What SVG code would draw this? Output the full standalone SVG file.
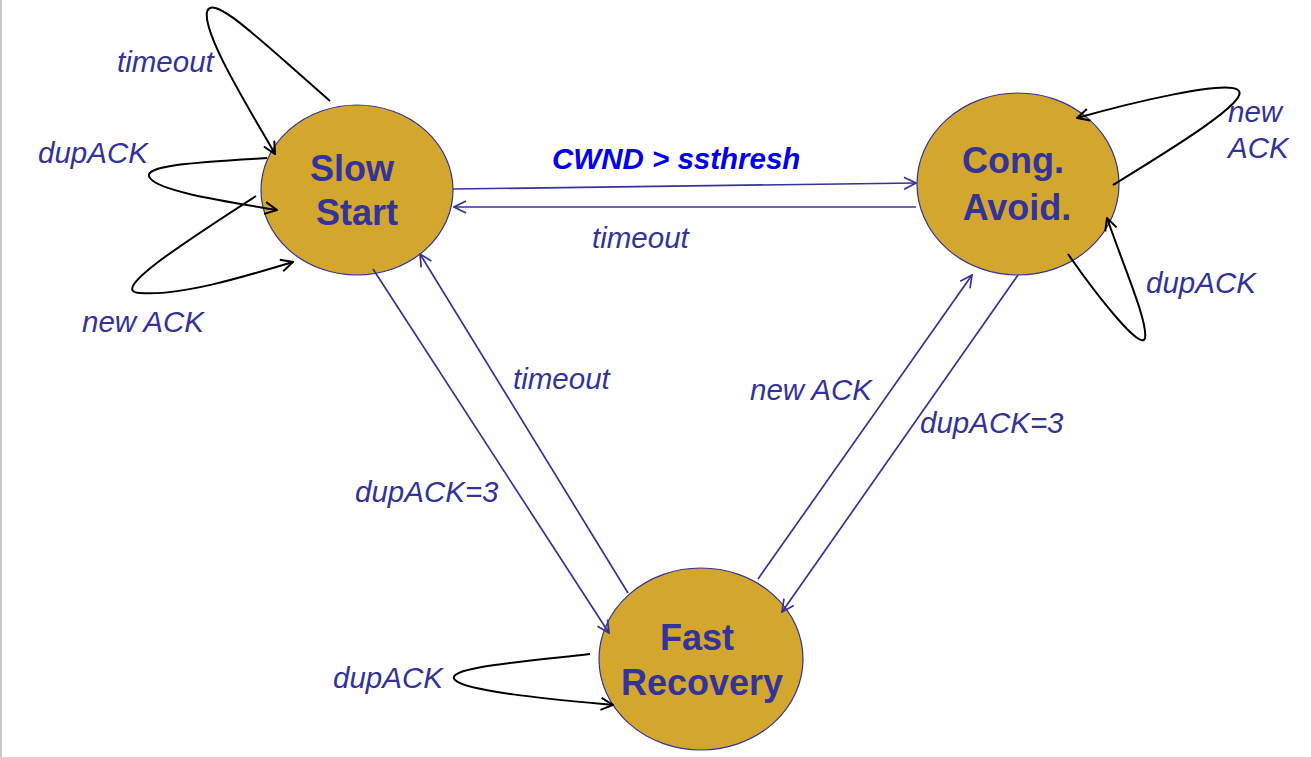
<svg xmlns="http://www.w3.org/2000/svg" width="1311" height="757" viewBox="0 0 1311 757">
<defs>
<style>
.node{fill:#D3A62E;stroke:#333399;stroke-width:1.2}
.ntext{font-family:"Liberation Sans",Arial,sans-serif;font-weight:bold;font-size:36px;fill:#333399;text-anchor:middle}
.lbl{font-family:"Liberation Sans",Arial,sans-serif;font-style:italic;font-size:29.5px;fill:#333399}
.blue{stroke:#333399;stroke-width:1.7;fill:none;marker-end:url(#ab)}
.blk{stroke:#000;stroke-width:2;fill:none;marker-end:url(#ak)}
</style>
<marker id="ab" viewBox="0 0 14 14" refX="13" refY="7" markerWidth="14" markerHeight="14" markerUnits="userSpaceOnUse" orient="auto">
<polyline points="1,1 13,7 1,13" fill="none" stroke="#333399" stroke-width="1.7"/>
</marker>
<marker id="ak" viewBox="0 0 14 14" refX="13" refY="7" markerWidth="14" markerHeight="14" markerUnits="userSpaceOnUse" orient="auto">
<polyline points="1,1 13,7 1,13" fill="none" stroke="#000" stroke-width="2"/>
</marker>
</defs>
<rect x="0" y="0" width="1311" height="757" fill="#fff"/>
<rect x="0" y="0" width="2" height="757" fill="#c8c8c8"/>
<g id="slow-start">
<ellipse class="node" cx="357" cy="190" rx="96" ry="85"/>
<text class="ntext" x="352" y="181">Slow</text>
<text class="ntext" x="357" y="225">Start</text>
</g>
<g id="cong-avoid">
<ellipse class="node" cx="1018" cy="184" rx="101" ry="91"/>
<text class="ntext" x="1013" y="173">Cong.</text>
<text class="ntext" x="1017" y="220">Avoid.</text>
</g>
<g id="fast-recovery">
<ellipse class="node" cx="701" cy="659" rx="102" ry="91"/>
<text class="ntext" x="697" y="650">Fast</text>
<text class="ntext" x="702" y="695">Recovery</text>
</g>
<g id="connectors">
<path class="blue" d="M453,189 L916,183"/>
<path class="blue" d="M916,207 L454,207"/>
<path class="blue" d="M373,269 L609,633"/>
<path class="blue" d="M628,593 L420,254"/>
<path class="blue" d="M758,579 L972,275"/>
<path class="blue" d="M1018,275 L782,612"/>
<path class="blk" d="M330,101 C262,42 212,-8 207,12 C203,35 250,110 275,154"/>
<path class="blk" d="M267,158 C200,162 140,165 150,178 C160,192 230,202 277,210"/>
<path class="blk" d="M256,196 C180,245 108,292 140,293 C180,296 240,278 293,262"/>
<path class="blk" d="M1113,185 C1170,150 1252,100 1238,90 C1225,80 1130,103 1077,118"/>
<path class="blk" d="M1068,254 C1100,300 1142,352 1145,338 C1148,322 1125,270 1107,218"/>
<path class="blk" d="M590,654 C520,662 443,668 455,680 C467,692 560,700 613,705"/>
</g>
<g id="labels">
<text class="lbl" x="117" y="72">timeout</text>
<text class="lbl" x="38" y="163">dupACK</text>
<text class="lbl" x="82" y="332">new ACK</text>
<text x="552" y="169" font-family="'Liberation Sans',Arial,sans-serif" font-style="italic" font-weight="bold" font-size="29.5" fill="#0000EE">CWND &gt; ssthresh</text>
<text class="lbl" x="592" y="248">timeout</text>
<text class="lbl" x="1228" y="122">new</text>
<text class="lbl" x="1228" y="158">ACK</text>
<text class="lbl" x="1146" y="293">dupACK</text>
<text class="lbl" x="513" y="389">timeout</text>
<text class="lbl" x="355" y="502">dupACK=3</text>
<text class="lbl" x="750" y="400">new ACK</text>
<text class="lbl" x="920" y="433">dupACK=3</text>
<text class="lbl" x="333" y="688">dupACK</text>
</g>
</svg>
